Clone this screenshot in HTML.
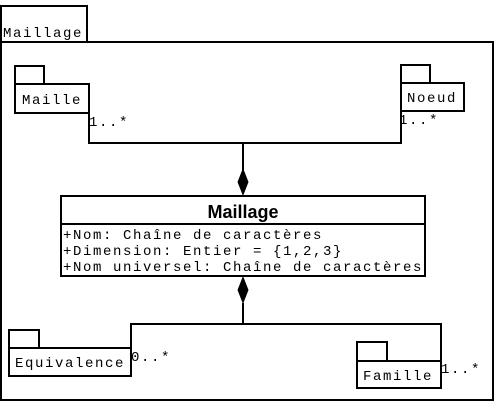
<!DOCTYPE html>
<html><head><style>
body{margin:0;background:#fff}
.t{font-family:"Liberation Mono","DejaVu Sans Mono",monospace;font-size:14px;letter-spacing:1.6px;fill:#000}
</style></head><body>
<svg width="495" height="402" viewBox="0 0 495 402" xmlns="http://www.w3.org/2000/svg">
<g fill="none" stroke="#000" stroke-width="2">
<rect x="1" y="6" width="86" height="36" fill="#fff"/>
<path d="M87 42 H493 V400 H1 V42"/>
<rect x="15" y="66" width="29" height="18"/>
<rect x="15" y="84" width="74" height="29" fill="#fff"/>
<rect x="401" y="65" width="29" height="18"/>
<rect x="401" y="83" width="63" height="28" fill="#fff"/>
<path d="M89 113 V143 H401 V111"/>
<path d="M243 143 V170"/>
<rect x="61" y="196" width="364" height="80" fill="#fff"/>
<path d="M61 224 H425"/>
<path d="M243 303 V324"/>
<path d="M131 348 V324 H441 V361"/>
<rect x="9" y="330" width="30" height="18"/>
<rect x="9" y="348" width="122" height="28" fill="#fff"/>
<rect x="357" y="342" width="30" height="19"/>
<rect x="357" y="361" width="84" height="27" fill="#fff"/>
</g>
<path d="M243 168 L237.5 182 L243 196 L248.5 182 Z" fill="#000"/>
<path d="M243 276 L237.5 290 L243 304 L248.5 290 Z" fill="#000"/>
<g class="t" font-family="Liberation Mono, monospace" font-size="14">
<text class="t" x="3" y="37">Maillage</text>
<text class="t" x="22" y="104">Maille</text>
<text class="t" x="89" y="126">1..*</text>
<text class="t" x="407" y="102">Noeud</text>
<text class="t" x="399" y="124">1..*</text>
<text class="t" x="63" y="239">+Nom: Chaîne de caractères</text>
<text class="t" x="63" y="255">+Dimension: Entier = {1,2,3}</text>
<text class="t" x="63" y="271">+Nom universel: Chaîne de caractères</text>
<text class="t" x="15" y="367">Equivalence</text>
<text class="t" x="131" y="361">0..*</text>
<text class="t" x="363" y="380">Famille</text>
<text class="t" x="441" y="373">1..*</text>
</g>
<text x="243" y="218" text-anchor="middle" font-family="Liberation Sans, sans-serif" font-weight="bold" font-size="18">Maillage</text>
</svg>
</body></html>
